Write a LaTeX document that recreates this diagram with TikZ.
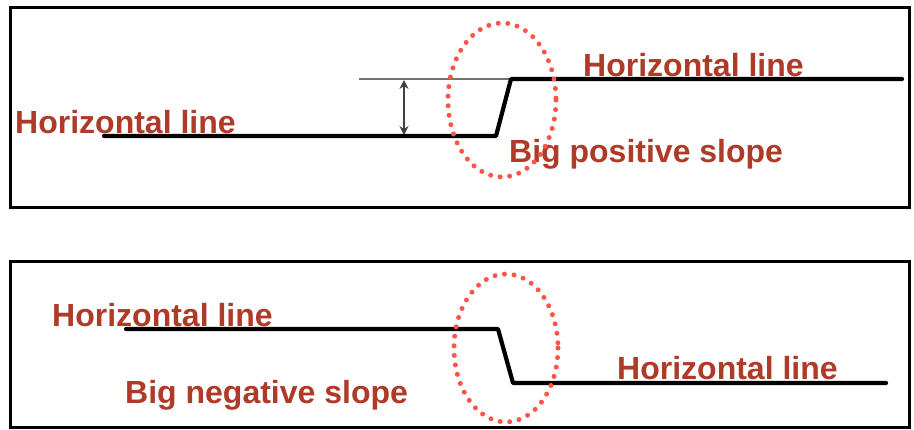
\documentclass[tikz,border=0pt]{standalone}
\usepackage{fontspec}
\setmainfont{Liberation Sans}
\usetikzlibrary{arrows.meta}
\definecolor{lbl}{RGB}{176,58,40}
\definecolor{dotred}{RGB}{255,85,72}
\tikzset{
  frame/.style={draw=black,line width=3pt},
  stepline/.style={draw=black,line width=4.2pt,line cap=round,line join=round},
  guide/.style={draw=black!55,line width=2.4pt},
  dotring/.style={draw=dotred,line width=5pt,line cap=round,dash pattern=on 0pt off 9.6pt},
  lab/.style={text=lbl,font=\fontsize{32}{32}\selectfont\bfseries,inner sep=0pt,anchor=base west},
  dimarrow/.style={draw=black!75,line width=1.6pt,{Stealth[length=9pt,width=9pt]}-{Stealth[length=9pt,width=9pt]}}
}
\begin{document}
\begin{tikzpicture}[x=1pt,y=-1pt]
\useasboundingbox (0,0) rectangle (914,430);
\fill[white] (0,0) rectangle (914,430);
% frames
\draw[frame] (10,8) rectangle (909,208);
\draw[frame] (10,262) rectangle (909,428);
% top panel
\coordinate (a1) at (104,136);
\coordinate (a2) at (496,136);
\coordinate (a3) at (511,79);
\coordinate (a4) at (902,79);
\coordinate (g1) at (359,79);
\coordinate (d1) at (404,80);
\coordinate (d2) at (404,135);
\draw[guide] (g1) -- (a3);
\draw[dimarrow] (d1) -- (d2);
\node[lab] (t1) at (15,134) {Horizontal line};
\draw[stepline] (a1) -- (a2) -- (a3) -- (a4);
\node[lab] (t2) at (583,77) {Horizontal line};
\node[lab] (t3) at (509,163) {Big positive slope};
\draw[dotring] (502,100) ellipse [x radius=54, y radius=77];
% bottom panel
\coordinate (b1) at (126,329);
\coordinate (b2) at (498,329);
\coordinate (b3) at (513,383);
\coordinate (b4) at (886,383);
\node[lab] (u1) at (52,327) {Horizontal line};
\draw[stepline] (b1) -- (b2) -- (b3) -- (b4);
\node[lab] (u2) at (617,380) {Horizontal line};
\node[lab] (u3) at (125,404) {Big negative slope};
\draw[dotring] (506,348) ellipse [x radius=52, y radius=74];
\end{tikzpicture}
\end{document}
